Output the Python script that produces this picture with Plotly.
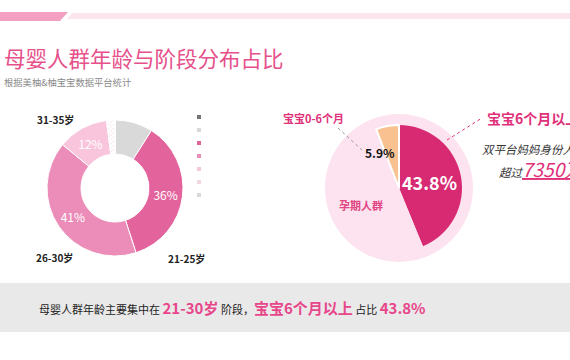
import plotly.graph_objects as go

W, H = 570, 360

# ---------------- data ----------------
age_groups = ["", "20岁及以下", "21-25岁", "26-30岁", "31-35岁", "36岁以上", "其他"]
age_share = [0, 9, 36, 41, 12, 2, 0]
age_colors = ["#737373", "#d9d9d9", "#e3649d", "#eb8db8", "#f9c5dc", "#f2d6e1", "#d9d9d9"]

stage_labels = ["宝宝6个月以上", "孕期人群", "宝宝0-6个月"]
stage_share = [43.8, 50.3, 5.9]
stage_colors = ["#d72a73", "#fde3ef", "#f9c190"]

title_text = "母婴人群年龄与阶段分布占比"
subtitle_text = "根据美柚&柚宝宝数据平台统计"
mom_total = "7350万"

FONT = "Noto Sans CJK SC"
PINK = "#e0307a"


def px(x):
    return x / W


def py(y):
    return 1 - y / H


fig = go.Figure()

# ---------------- donut (age) ----------------
cx, cy, r = 115, 188, 68
fig.add_trace(go.Pie(
    labels=age_groups, values=age_share, sort=False, direction="clockwise", rotation=0,
    hole=0.5,
    marker=dict(colors=age_colors, line=dict(color="white", width=1),
                pattern=dict(shape=["", "", "", "", "", "/", ""], fgcolor="#ecc6d5",
                             size=3, solidity=0.15)),
    text=[f"{v}%" if v >= 10 else "" for v in age_share], textinfo="text",
    textposition="inside", insidetextorientation="horizontal",
    textfont=dict(color="white", size=12, family=FONT),
    domain=dict(x=[px(cx - r), px(cx + r)], y=[py(cy + r), py(cy - r)]),
    showlegend=False, hoverinfo="label+percent",
))

# legend squares (no legend text in the reference)
fig.add_trace(go.Scatter(
    x=[0] * len(age_groups), y=list(range(len(age_groups)))[::-1], mode="markers",
    marker=dict(symbol="square", size=4, color=age_colors),
    xaxis="x", yaxis="y", showlegend=False, hoverinfo="skip",
))

# ---------------- pie (stage) ----------------
pcx, pcy, pr_out, pr_in = 399, 188, 74, 63
fig.add_trace(go.Pie(
    values=[1], labels=["bg"], marker=dict(colors=[stage_colors[1]], line=dict(width=0)),
    textinfo="none",
    domain=dict(x=[px(pcx - pr_out), px(pcx + pr_out)], y=[py(pcy + pr_out), py(pcy - pr_out)]),
    showlegend=False, hoverinfo="skip",
))
fig.add_trace(go.Pie(
    labels=stage_labels, values=stage_share, sort=False, direction="clockwise", rotation=0,
    marker=dict(colors=stage_colors, line=dict(color="white", width=[0, 0, 2])),
    textinfo="none",
    domain=dict(x=[px(pcx - pr_in), px(pcx + pr_in)], y=[py(pcy + pr_in), py(pcy - pr_in)]),
    showlegend=False, hoverinfo="label+value",
))

# ---------------- shapes ----------------
shapes = [
    # header bands
    dict(type="path", xref="paper", yref="paper",
         path=f"M 0 {py(12)} L {px(68)} {py(12)} L {px(60)} {py(21)} L 0 {py(21)} Z",
         fillcolor="#f29fc1", line=dict(width=0), layer="below"),
    dict(type="path", xref="paper", yref="paper",
         path=f"M {px(72)} {py(13)} L 1 {py(13)} L 1 {py(19)} L {px(67)} {py(19)} Z",
         fillcolor="#fce5ef", line=dict(width=0), layer="below"),
    # bottom summary band
    dict(type="rect", xref="paper", yref="paper", x0=0, x1=1, y0=py(332), y1=py(283),
         fillcolor="#e9e9e9", line=dict(width=0), layer="below"),
    # leader lines
    dict(type="line", xref="paper", yref="paper", x0=px(338), y0=py(128), x1=px(362), y1=py(150),
         line=dict(color="#999999", width=1, dash="dot")),
    dict(type="line", xref="paper", yref="paper", x0=px(447), y0=py(140), x1=px(482), y1=py(118),
         line=dict(color=PINK, width=1, dash="dot")),
]

# ---------------- annotations ----------------
def ann(x, y, text, size, color, xanchor="left", yanchor="middle", bold=False):
    return dict(x=px(x), y=py(y), xref="paper", yref="paper", showarrow=False,
                text=f"<b>{text}</b>" if bold else text, xanchor=xanchor, yanchor=yanchor,
                font=dict(size=size, color=color, family=FONT))


annotations = [
    ann(2, 57, title_text, 21.5, "#e6508b"),
    ann(2, 82, subtitle_text, 9.3, "#8a8a8a"),
    # donut outside labels
    ann(55, 120, age_groups[4], 10, "#222222", xanchor="center", bold=True),
    ann(54, 257, age_groups[3], 10, "#222222", xanchor="center", bold=True),
    ann(186, 258, age_groups[2], 10, "#222222", xanchor="center", bold=True),
    # stage pie labels
    ann(429, 182, f"{stage_share[0]}%", 18, "white", xanchor="center", bold=True),
    ann(380, 152, f"{stage_share[2]}%", 12, "#111111", xanchor="center", bold=True),
    ann(361, 205, stage_labels[1], 11, "#e14583", xanchor="center", bold=True),
    ann(313, 118, stage_labels[2], 11, PINK, xanchor="center", bold=True),
    ann(485, 118, stage_labels[0], 14, PINK, bold=True),
    ann(480, 149, "<i>双平台妈妈身份人数</i>", 11.5, "#333333"),
    ann(497, 168, f"<i>超过<span style='color:{PINK};font-size:19px'><u>{mom_total}</u></span></i>",
        11.5, "#333333"),
    # bottom summary
    ann(37, 307,
        "母婴人群年龄主要集中在 "
        f"<span style='color:#e8468a;font-size:15px'><b>21-30岁</b></span> 阶段，"
        f"<span style='color:#e8468a;font-size:15px'><b>{stage_labels[0]}</b></span> 占比 "
        f"<span style='color:#e8468a;font-size:15px'><b>{stage_share[0]}%</b></span>",
        11, "#222222"),
]

fig.update_layout(
    width=W, height=H, margin=dict(l=0, r=0, t=0, b=0),
    paper_bgcolor="white", plot_bgcolor="rgba(0,0,0,0)",
    font=dict(family=FONT),
    xaxis=dict(domain=[px(190), px(208)], range=[-1, 1], visible=False, fixedrange=True),
    yaxis=dict(domain=[py(201.5), py(110.5)], range=[-0.5, 6.5], visible=False, fixedrange=True),
    shapes=shapes, annotations=annotations, showlegend=False,
)

fig.write_html(
    "out.html",
    config={"displayModeBar": False},
    post_script="document.body.style.margin='0';document.body.style.overflow='hidden';",
)
